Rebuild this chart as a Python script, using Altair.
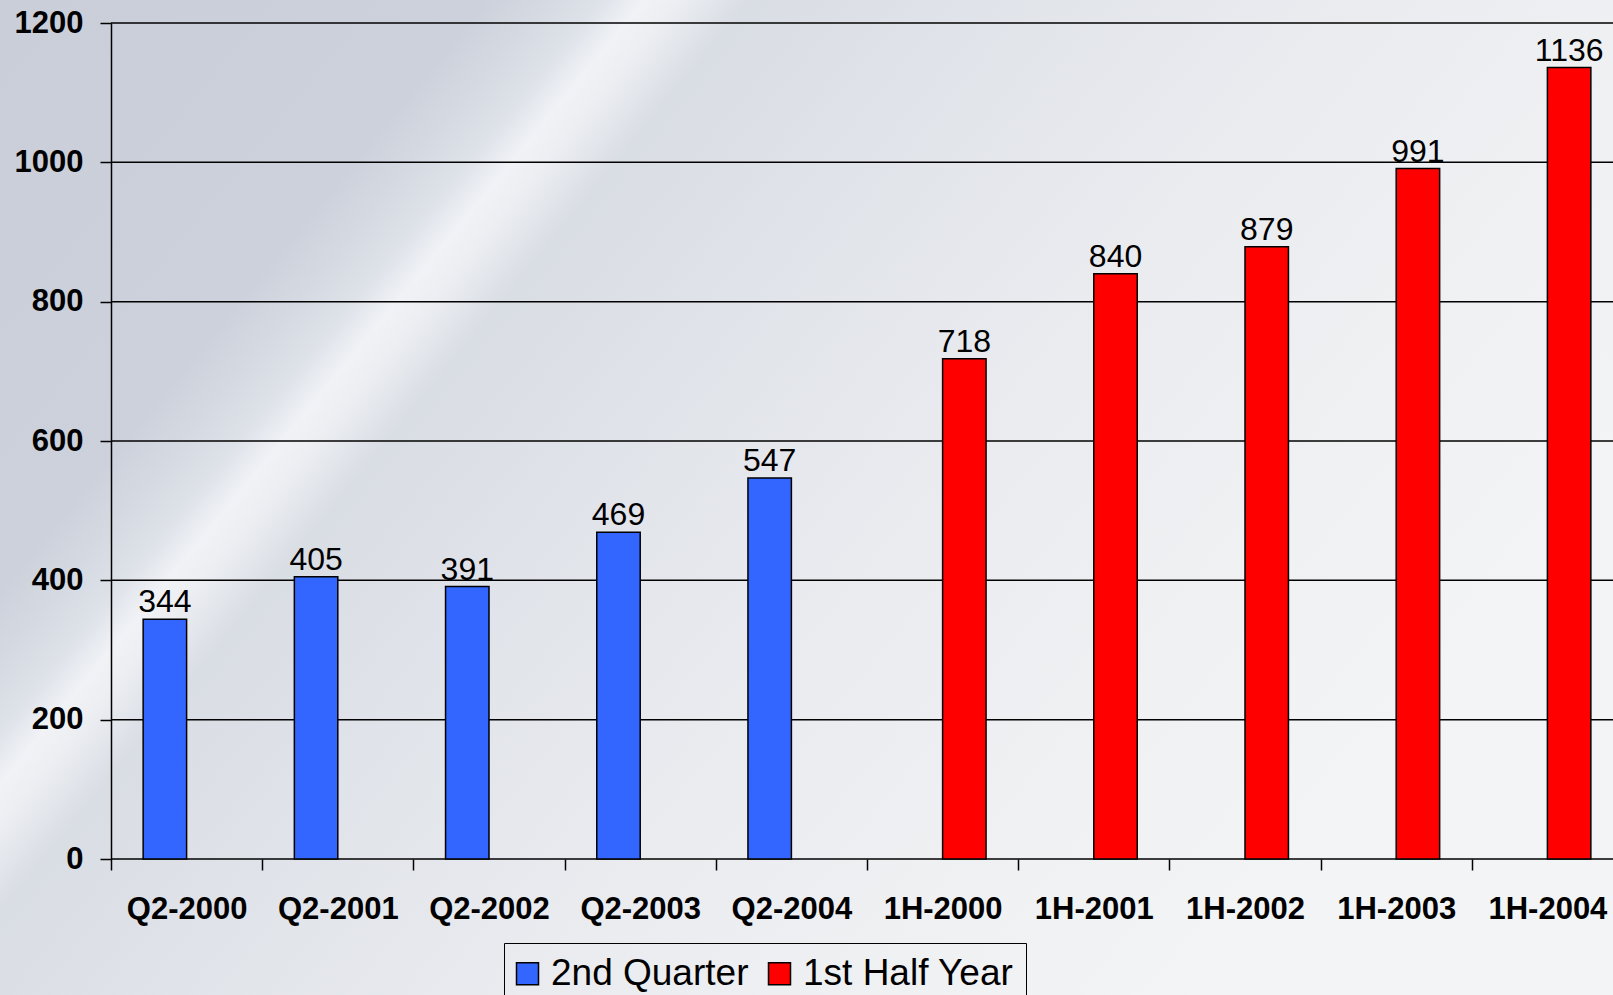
import altair as alt
import pandas as pd

# ---- data ----
categories = ["Q2-2000", "Q2-2001", "Q2-2002", "Q2-2003", "Q2-2004",
              "1H-2000", "1H-2001", "1H-2002", "1H-2003", "1H-2004"]
series_names = ["2nd Quarter", "1st Half Year"]
quarter_periods = ["Q2-2000", "Q2-2001", "Q2-2002", "Q2-2003", "Q2-2004"]
quarter_values = [344, 405, 391, 469, 547]
half_periods = ["1H-2000", "1H-2001", "1H-2002", "1H-2003", "1H-2004"]
half_values = [718, 840, 879, 991, 1136]
series_colors = ["#3366ff", "#ff0000"]
y_ticks = [0, 200, 400, 600, 800, 1000, 1200]

rows = []
for p, v in zip(quarter_periods, quarter_values):
    rows.append({"period": p, "series": series_names[0], "value": v})
for p, v in zip(half_periods, half_values):
    rows.append({"period": p, "series": series_names[1], "value": v})
df = pd.DataFrame(rows)
grid_df = pd.DataFrame({"value": y_ticks})

FONT = "Liberation Sans"
PLOT_W = 1502      # visible plot width (runs to the window edge)
X_RANGE = 1512     # full band range (last band runs past the edge)
PLOT_H = 836

x_enc = alt.X(
    "period:N",
    sort=categories,
    scale=alt.Scale(domain=categories, range=[0, X_RANGE], paddingInner=0, paddingOuter=0),
    axis=alt.Axis(
        title=None, domain=False, grid=False, tickBand="extent",
        tickSize=11, tickWidth=1.5, tickColor="black",
        labelFont=FONT, labelFontSize=31, labelFontWeight="bold", labelColor="black",
        labelPadding=24, labelAngle=0, zindex=1,
    ),
)
xoff_enc = alt.XOffset(
    "series:N",
    scale=alt.Scale(domain=series_names, paddingInner=0, paddingOuter=0.74),
)
y_scale = alt.Scale(domain=[0, 1200], nice=False)
y_enc = alt.Y(
    "value:Q",
    scale=y_scale,
    axis=alt.Axis(
        title=None, values=y_ticks, format="d", domain=True, domainColor="black", domainWidth=1.5,
        tickSize=11, tickWidth=1.5, tickColor="black", grid=False,
        labelFont=FONT, labelFontSize=31, labelFontWeight="bold", labelColor="black",
        labelPadding=17, zindex=1,
    ),
)
color_enc = alt.Color(
    "series:N",
    scale=alt.Scale(domain=series_names, range=series_colors),
    legend=alt.Legend(
        title=None, orient="none", direction="horizontal",
        legendX=393, legendY=920,
        symbolType="square", symbolSize=484, symbolOffset=-7,
        symbolStrokeColor="black", symbolStrokeWidth=1.5,
        labelFont=FONT, labelFontSize=37, labelColor="black", labelLimit=0,
        labelOffset=5, columnPadding=16, padding=12,
        strokeColor="black",
    ),
)

background = alt.Chart(pd.DataFrame({"d": [0]})).mark_rect(
    fill=alt.LinearGradient(
        gradient="linear", x1=0, y1=0, x2=1, y2=0.507,
        stops=[
            alt.GradientStop(offset=0.0, color="#c9ced8"),
            alt.GradientStop(offset=0.24, color="#ccd1db"),
            alt.GradientStop(offset=0.295, color="#dde1e8"),
            alt.GradientStop(offset=0.318, color="#f0f2f6"),
            alt.GradientStop(offset=0.335, color="#eceef2"),
            alt.GradientStop(offset=0.37, color="#d9dde4"),
            alt.GradientStop(offset=0.48, color="#e0e3e9"),
            alt.GradientStop(offset=0.65, color="#e9ebef"),
            alt.GradientStop(offset=0.85, color="#f0f1f3"),
            alt.GradientStop(offset=1.0, color="#f3f4f6"),
        ],
    ),
    stroke=None,
).encode(
    x=alt.value(-111), x2=alt.value(PLOT_W), y=alt.value(-23), y2=alt.value(972)
)

gridlines = alt.Chart(grid_df).mark_rule(color="black", strokeWidth=1.5).encode(
    y=alt.Y("value:Q", scale=y_scale),
    x=alt.value(0),
    x2=alt.value(PLOT_W),
)

bars = alt.Chart(df).mark_bar(stroke="black", strokeWidth=1.5, opacity=1).encode(
    x=x_enc, xOffset=xoff_enc, y=y_enc, color=color_enc
)

labels = alt.Chart(df).mark_text(
    font=FONT, fontSize=32, color="black", baseline="alphabetic", align="center", dy=-7
).encode(
    x=alt.X("period:N", sort=categories),
    xOffset=alt.XOffset("series:N"),
    y=alt.Y("value:Q"),
    text=alt.Text("value:Q", format="d"),
)

chart = alt.layer(background, gridlines, bars, labels).properties(
    width=PLOT_W,
    height=PLOT_H,
    autosize=alt.AutoSizeParams(type="none"),
    padding={"left": 111, "top": 23, "right": 0, "bottom": 136},
).configure(background="#e2e5ea").configure_view(stroke=None)

chart.save("out.html", embed_options={"renderer": "svg", "actions": False})
